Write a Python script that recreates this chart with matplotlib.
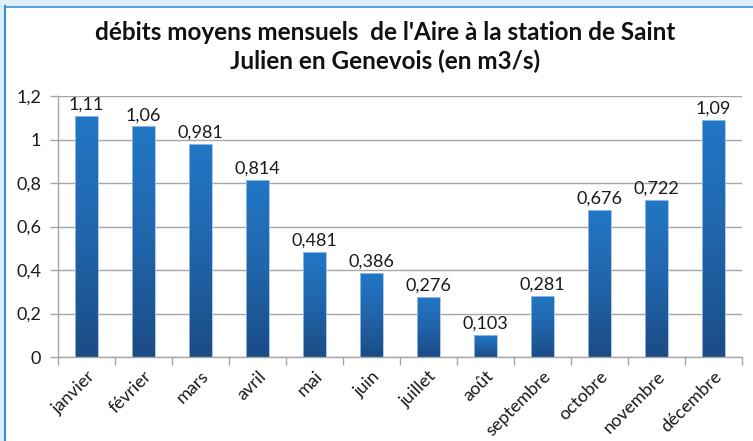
import numpy as np
import matplotlib
matplotlib.use("Agg")
import matplotlib.pyplot as plt
from matplotlib.patches import Rectangle
from matplotlib.colors import LinearSegmentedColormap

months = ["janvier", "février", "mars", "avril", "mai", "juin", "juillet",
          "août", "septembre", "octobre", "novembre", "décembre"]
debits = [1.11, 1.06, 0.981, 0.814, 0.481, 0.386, 0.276,
          0.103, 0.281, 0.676, 0.722, 1.09]
labels = ["1,11", "1,06", "0,981", "0,814", "0,481", "0,386", "0,276",
          "0,103", "0,281", "0,676", "0,722", "1,09"]
yticks = [0, 0.2, 0.4, 0.6, 0.8, 1.0, 1.2]
ytick_labels = ["0", "0,2", "0,4", "0,6", "0,8", "1", "1,2"]
title = "débits moyens mensuels  de l'Aire à la station de Saint\nJulien en Genevois (en m3/s)"

plt.rcParams["font.family"] = ["Lato", "DejaVu Sans"]

W, H = 753, 441
fig = plt.figure(figsize=(W / 100, H / 100), dpi=100)
fig.patch.set_facecolor("white")

# outer frame: pale strip on top/left with a blue edge line
fig.patches.append(Rectangle((0, 1 - 6 / H), 1, 6 / H, transform=fig.transFigure,
                             facecolor="#ddeff8", edgecolor="none", zorder=0))
fig.patches.append(Rectangle((0, 0), 4 / W, 1, transform=fig.transFigure,
                             facecolor="#ddeff8", edgecolor="none", zorder=0))
fig.lines.append(plt.Line2D([5 / W, 5 / W], [0, 1 - 6 / H], transform=fig.transFigure,
                            color="#3a8fd0", lw=1.5))
fig.lines.append(plt.Line2D([5 / W, 1], [1 - 7 / H, 1 - 7 / H], transform=fig.transFigure,
                            color="#3a8fd0", lw=1.2))

x0, x1 = 58, 742
y0, y1 = 357, 96
ax = fig.add_axes([x0 / W, 1 - y0 / H, (x1 - x0) / W, (y0 - y1) / H])
ax.set_xlim(-0.5, len(months) - 0.5)
ax.set_ylim(0, 1.2)

cmap = LinearSegmentedColormap.from_list("bar", ["#1b4c86", "#2165ab", "#2277c6"])
grad = np.linspace(0, 1, 256).reshape(-1, 1)

bw = 0.4
xs = np.arange(len(months))
bars = ax.bar(xs, debits, width=bw, color="none", edgecolor="#9ec3e6", lw=0.6, zorder=3)
for b, v in zip(bars, debits):
    im = ax.imshow(grad, cmap=cmap, aspect="auto", origin="lower",
                   extent=(b.get_x(), b.get_x() + bw, 0, v), zorder=2)
    im.set_clip_path(b)

for x, v, s in zip(xs, debits, labels):
    ax.text(x, v + 0.015, s, ha="center", va="bottom", fontsize=13, color="#1a1a1a")

ax.set_yticks(yticks)
ax.set_yticklabels(ytick_labels, fontsize=13, color="#1a1a1a")
ax.yaxis.grid(True, color="#a6a6a6", lw=1)
ax.set_axisbelow(True)

ax.set_xticks(xs)
ax.set_xticklabels(months, rotation=45, ha="right", rotation_mode="anchor",
                   fontsize=13, color="#1a1a1a")
ax.tick_params(axis="x", length=0, pad=8)
ax.set_xticks(np.arange(-0.5, len(months)), minor=True)
ax.tick_params(axis="x", which="minor", length=6, color="#a6a6a6", width=1)
ax.tick_params(axis="y", length=6, color="#a6a6a6", width=1, pad=6)

for side in ["top", "right"]:
    ax.spines[side].set_visible(False)
for side in ["left", "bottom"]:
    ax.spines[side].set_color("#a6a6a6")
    ax.spines[side].set_linewidth(1)

fig.text(385 / W, 1 - 47 / H, title, ha="center", va="center", fontsize=17.5,
         fontweight="bold", linespacing=1.25, color="#111111")

fig.savefig("out.png", dpi=100)
